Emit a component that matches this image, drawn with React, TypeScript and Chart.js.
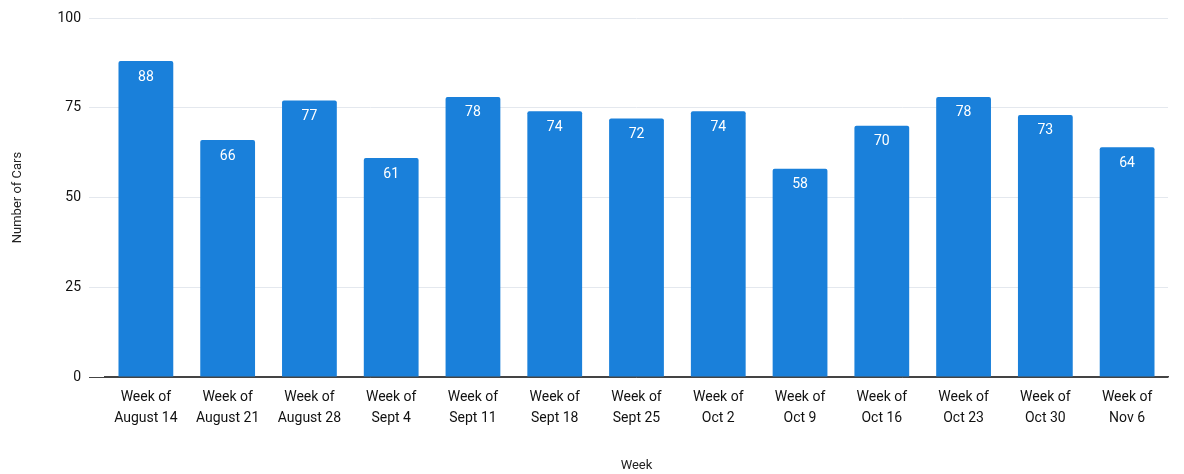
import React, { useEffect, useRef } from "react";
import { Chart, registerables } from "chart.js";

Chart.register(...registerables);

const categories: string[][] = [
  ["Week of", "August 14"],
  ["Week of", "August 21"],
  ["Week of", "August 28"],
  ["Week of", "Sept 4"],
  ["Week of", "Sept 11"],
  ["Week of", "Sept 18"],
  ["Week of", "Sept 25"],
  ["Week of", "Oct 2"],
  ["Week of", "Oct 9"],
  ["Week of", "Oct 16"],
  ["Week of", "Oct 23"],
  ["Week of", "Oct 30"],
  ["Week of", "Nov 6"],
];
const cars: number[] = [88, 66, 77, 61, 78, 74, 72, 74, 58, 70, 78, 73, 64];
const yTicks: number[] = [0, 25, 50, 75, 100];

const barLabelPlugin = {
  id: "barLabels",
  afterDatasetsDraw(chart: any) {
    const ctx = chart.ctx;
    const meta = chart.getDatasetMeta(0);
    ctx.save();
    ctx.fillStyle = "#ffffff";
    ctx.font = "14px Roboto";
    ctx.textAlign = "center";
    ctx.textBaseline = "middle";
    meta.data.forEach((bar: any, i: number) => {
      ctx.fillText(String(cars[i]), bar.x, bar.y + 16);
    });
    ctx.restore();
  },
};

export default function App() {
  const ref = useRef<HTMLCanvasElement | null>(null);
  useEffect(() => {
    if (!ref.current) return;
    const chart = new Chart(ref.current, {
      type: "bar",
      data: {
        labels: categories,
        datasets: [
          {
            data: cars,
            backgroundColor: "#1a80da",
            borderRadius: 2,
            borderSkipped: "bottom",
            barPercentage: 0.67,
            categoryPercentage: 1,
          },
        ],
      },
      plugins: [barLabelPlugin],
      options: {
        animation: false,
        responsive: false,
        maintainAspectRatio: false,
        layout: { padding: { top: 18, right: 16, left: 0, bottom: 0 } },
        plugins: { legend: { display: false }, tooltip: { enabled: false } },
        scales: {
          x: {
            grid: { display: false, drawTicks: false },
            border: { display: true, color: "#444", width: 1.5 },
            ticks: {
              color: "#111",
              font: { family: "Roboto", size: 14, lineHeight: 1.5 },
              padding: 10,
              maxRotation: 0,
              autoSkip: false,
            },
            title: {
              display: true,
              text: "Week",
              color: "#222",
              font: { family: "Roboto", size: 13 },
              padding: { top: 20, bottom: 0 },
            },
            afterFit: (s: any) => {
              s.height = 97;
            },
          },
          y: {
            min: 0,
            max: 100,
            afterBuildTicks: (s: any) => {
              s.ticks = yTicks.map((v) => ({ value: v }));
            },
            grid: {
              color: (c: any) => (c.tick && c.tick.value === 0 ? "#444" : "#e4e8ee"),
              tickLength: 16,
              drawTicks: true,
            },
            border: { display: false },
            ticks: {
              color: "#111",
              font: { family: "Roboto", size: 14 },
              padding: 8,
            },
            title: {
              display: true,
              text: "Number of Cars",
              color: "#222",
              font: { family: "Roboto", size: 13 },
              padding: { top: 10, bottom: 10 },
            },
            afterFit: (s: any) => {
              s.width = 105;
            },
          },
        },
      },
    });
    return () => chart.destroy();
  }, []);
  return (
    <div style={{ position: "fixed", left: 0, top: 0, width: 1184, height: 474, background: "#fff" }}>
      <canvas ref={ref} width={1184} height={474} style={{ width: 1184, height: 474 }} />
    </div>
  );
}
